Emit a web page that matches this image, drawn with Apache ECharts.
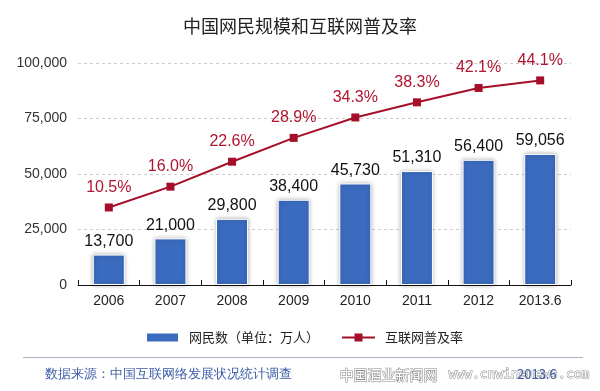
<!DOCTYPE html>
<html>
<head>
<meta charset="utf-8">
<script src="https://cdn.jsdelivr.net/npm/echarts@6/dist/echarts.min.js"></script>
<style>html,body{margin:0;padding:0;background:#fff;}#c{width:600px;height:391px;}</style>
</head>
<body>
<div id="c"></div>
<script>
const categories = ['2006','2007','2008','2009','2010','2011','2012','2013.6'];
const netizens = [13700,21000,29800,38400,45730,51310,56400,59056];
const penetration = [10.5,16.0,22.6,28.9,34.3,38.3,42.1,44.1];
const yTicks = [0,25000,50000,75000,100000];

const fmt = v => String(v).replace(/\B(?=(\d{3})+(?!\d))/g, ',');
const font = '"Noto Sans CJK SC","Liberation Sans",Arial,sans-serif';
const chart = echarts.init(document.getElementById('c'));
chart.setOption({
  backgroundColor:'#fff',
  animation:false,
  title:{text:'中国网民规模和互联网普及率', left:'center', top:12,
    textStyle:{fontSize:18, fontWeight:'normal', color:'#222', fontFamily:font}},
  grid:{left:78, right:29, top:63, bottom:106},
  legend:{left:140, top:326, itemWidth:33, itemHeight:10, itemGap:22,
    textStyle:{fontSize:13, color:'#222', fontFamily:font, padding:[0,0,0,5]},
    data:[{name:'网民数（单位：万人）', icon:'rect'},{name:'互联网普及率'}]},
  xAxis:{type:'category', data:categories,
    axisLine:{lineStyle:{color:'#111', width:1}},
    axisTick:{show:true, inside:true, length:5, lineStyle:{color:'#111'}},
    axisLabel:{fontSize:14, color:'#222', margin:9, fontFamily:'"Liberation Sans",Arial,sans-serif'}},
  yAxis:[{type:'value', min:0, max:100000, interval:25000,
    axisLine:{show:false}, axisTick:{show:false},
    axisLabel:{fontSize:14, color:'#333', margin:11, formatter:v=>fmt(v), fontFamily:'"Liberation Sans",Arial,sans-serif'},
    splitLine:{lineStyle:{color:'#ccc', type:[3,3]}}},
   {type:'value', min:-10, max:48.7, show:false, splitLine:{show:false}}],
  series:[
   {name:'网民数（单位：万人）', type:'bar', data:netizens, barWidth:32,
    itemStyle:{color:'#3b6bbf', borderColor:'#fff', borderWidth:1, shadowColor:'rgba(0,0,0,0.3)', shadowBlur:4},
    label:{show:true, position:'top', distance:5, fontSize:16, color:'#111', formatter:p=>fmt(p.value), fontFamily:'"Liberation Sans",Arial,sans-serif'}},
   {name:'互联网普及率', type:'line', yAxisIndex:1, data:penetration,
    symbol:'rect', symbolSize:8,
    lineStyle:{color:'#a50f29', width:2}, itemStyle:{color:'#a50f29'},
    label:{show:true, position:'top', distance:8, fontSize:16, color:'#b01530', formatter:p=>p.value.toFixed(1)+'%', fontFamily:'"Liberation Sans",Arial,sans-serif'}}
  ],
  graphic:[
   {type:'line', shape:{x1:23,y1:357.5,x2:583,y2:357.5}, style:{stroke:'#a9b2c8', lineWidth:1}},
   {type:'text', left:45, top:368, style:{text:'数据来源：中国互联网络发展状况统计调查', fontSize:13, fill:'#3d5ca8', font:'13px '+font}},
   {type:'text', left:339, top:367, style:{text:'中国酒业新闻网', fill:'#fff', stroke:'#888', lineWidth:1, font:'14px '+font}},
   {type:'text', left:448, top:368, style:{text:'www.cnwinenews.com', fill:'#fff', stroke:'#888', lineWidth:1, font:'13px "DejaVu Sans Mono",monospace'}},
   {type:'text', left:517, top:368, style:{text:'2013.6', fill:'#3d5ca8', font:'13px '+font}}
  ]
});
</script>
</body>
</html>
